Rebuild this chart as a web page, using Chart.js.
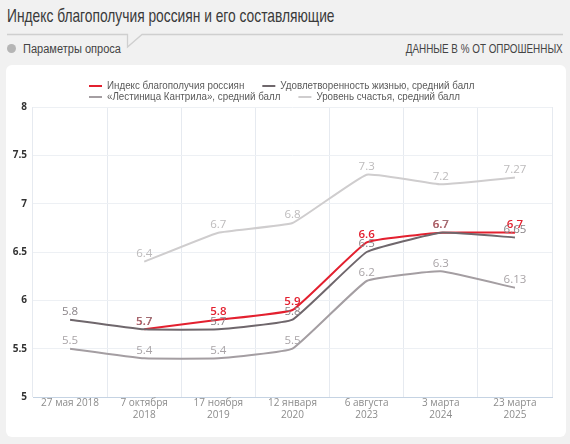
<!DOCTYPE html>
<html><head><meta charset="utf-8">
<script src="https://cdn.jsdelivr.net/npm/chart.js@4.4.1/dist/chart.umd.min.js"></script>
<style>
html,body{margin:0;padding:0;background:#f1f1f1;width:570px;height:444px;overflow:hidden;font-family:"Liberation Sans",Arial,sans-serif;}
#title{position:absolute;left:7px;top:5px;font-size:18.5px;color:#3a3a3a;white-space:nowrap;transform:scaleX(0.745);transform-origin:left top;}
#sep{position:absolute;left:0;top:0;}
#params{position:absolute;left:23px;top:42px;font-size:12px;color:#444;transform:scaleX(0.92);transform-origin:left top;white-space:nowrap;}
#icon{position:absolute;left:7px;top:44px;width:9px;height:9px;border-radius:50%;background:#b5b5b5;}
#units{position:absolute;right:7px;top:42px;font-size:12.5px;color:#444;transform:scaleX(0.79);transform-origin:right top;white-space:nowrap;}
#card{position:absolute;left:6px;top:65px;width:560px;height:372px;background:#fff;border-radius:6px;}
#wrap{position:absolute;left:6px;top:65px;width:560px;height:372px;}
</style></head>
<body>
<div id="title">Индекс благополучия россиян и его составляющие</div>
<svg id="sep" width="570" height="60"><polyline points="7,34.5 127.5,34.5 127.5,47 142,34.5 563,34.5" fill="none" stroke="#cfcfcf" stroke-width="1.3"/></svg>
<div id="icon"></div>
<div id="params">Параметры опроса</div>
<div id="units">ДАННЫЕ В % ОТ ОПРОШЕННЫХ</div>
<div id="card"></div>
<div id="wrap"><canvas id="c" width="560" height="372"></canvas></div>
<script>
const categories = [["27 мая 2018"],["7 октября","2018"],["17 ноября","2019"],["12 января","2020"],["6 августа","2023"],["3 марта","2024"],["23 марта","2025"]];
const seriesNames = ["Индекс благополучия россиян","Удовлетворенность жизнью, средний балл","«Лестиница Кантрила», средний балл","Уровень счастья, средний балл"];
const indexValues = [null,5.7,5.8,5.9,6.6,6.7,6.7];
const lifeSatisfaction = [5.8,5.7,5.7,5.8,6.5,6.7,6.65];
const cantrilLadder = [5.5,5.4,5.4,5.5,6.2,6.3,6.13];
const happiness = [null,6.4,6.7,6.8,7.3,7.2,7.27];
const yTicks = [5,5.5,6,6.5,7,7.5,8];
const colors = ["#e3202f","#6f676c","#a49ea2","#cfcdce"];
const labelColors = ["#e3202f","#8a8488","#a9a4a7","#bdbbbc"];

const dataLabels = {
  id:'dataLabels',
  afterDatasetsDraw(chart){
    const ctx = chart.ctx;
    ctx.save();
    ctx.textAlign='center';ctx.textBaseline='middle';
    chart.data.datasets.forEach((ds,i)=>{
      const meta = chart.getDatasetMeta(i);
      ctx.fillStyle = labelColors[i];
      ctx.font = (i===0?'600 ':'')+'11.5px "Open Sans", sans-serif';
      meta.data.forEach((pt,j)=>{
        const v = ds.data[j];
        if(v===null) return;
        ctx.fillText(String(v), pt.x, pt.y-8);
      });
    });
    ctx.restore();
  }
};
const customLegend = {
  id:'customLegend',
  afterDraw(chart){
    const ctx = chart.ctx;
    ctx.save();
    ctx.font = '11px "Liberation Sans", sans-serif';
    ctx.textBaseline='middle';
    const sx = 0.89;
    const rows = [[0,1],[2,3]];
    const x0 = 83, ys = [21,32];
    rows.forEach((r,ri)=>{
      let x = x0;
      r.forEach(i=>{
        ctx.strokeStyle = colors[i]; ctx.lineWidth = 2;
        ctx.beginPath(); ctx.moveTo(x, ys[ri]); ctx.lineTo(x+13, ys[ri]); ctx.stroke();
        x += 18;
        ctx.fillStyle = '#5a5a5a';
        ctx.save(); ctx.translate(x, ys[ri]); ctx.scale(sx,1);
        ctx.fillText(seriesNames[i], 0, 0);
        ctx.restore();
        x += ctx.measureText(seriesNames[i]).width*sx + 18;
      });
    });
    ctx.restore();
  }
};

const order = [3,2,1,0];
new Chart(document.getElementById('c'),{
  type:'line',
  data:{
    labels:categories,
    datasets:[indexValues,lifeSatisfaction,cantrilLadder,happiness].map((d,i)=>({
      label:seriesNames[i],data:d,borderColor:colors[i],backgroundColor:colors[i],
      borderWidth:2,pointRadius:0,tension:0.1,fill:false,order:order[i],spanGaps:false
    }))
  },
  options:{
    responsive:false,animation:false,
    layout:{padding:{top:42,right:14,left:0,bottom:16}},
    plugins:{legend:{display:false},tooltip:{enabled:false}},
    scales:{
      x:{offset:true,
        grid:{color:'#e6eaf0',offset:true,drawTicks:false},
        border:{color:'#c5d3e3'},
        ticks:{color:'#8c8c8c',font:{family:'"Open Sans", sans-serif',size:10,lineHeight:1.2},maxRotation:0,autoSkip:false,padding:0}
      },
      y:{min:5,max:8,
        afterBuildTicks(s){s.ticks=yTicks.map(v=>({value:v}));},
        afterFit(s){s.width=27;},
        grid:{color:'#edf0f4',drawTicks:false},
        border:{display:false},
        ticks:{color:'#333',font:{family:'"Open Sans", sans-serif',size:10,weight:'bold'},padding:6,callback:v=>String(v)}
      }
    }
  },
  plugins:[dataLabels,customLegend]
});
</script>
</body></html>
